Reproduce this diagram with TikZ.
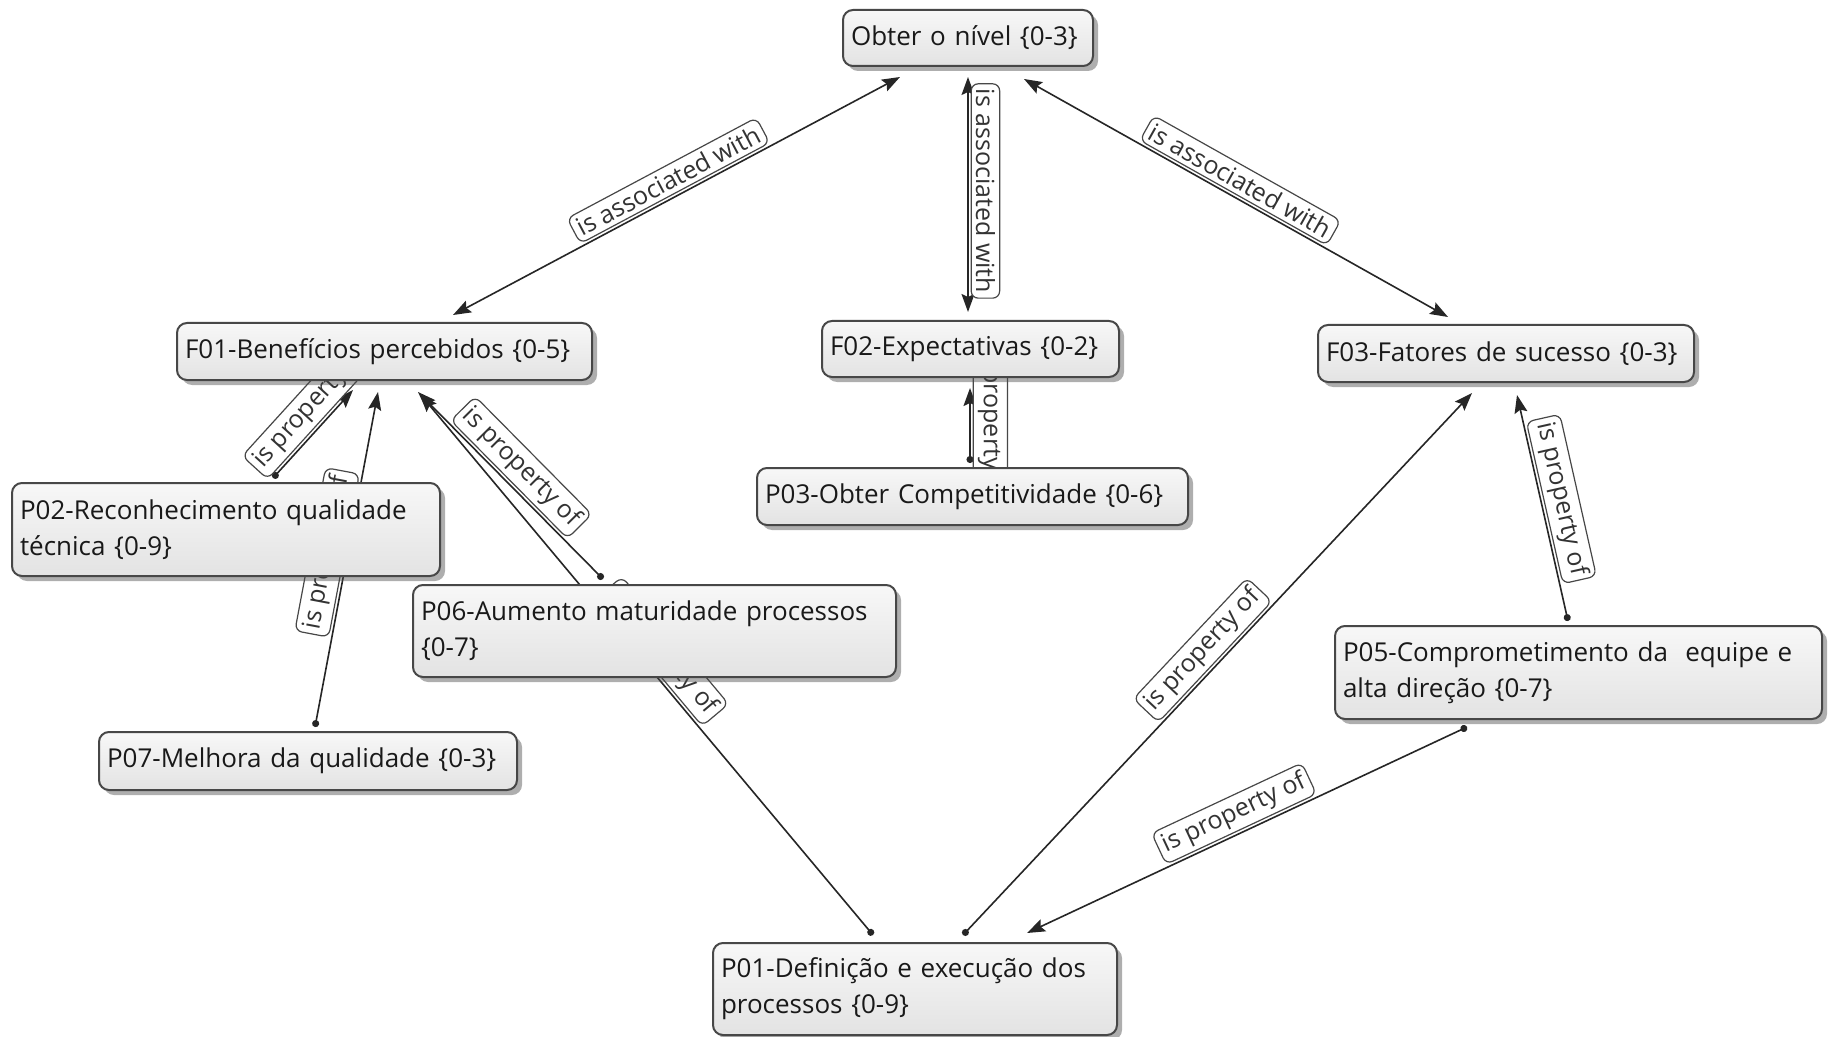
\documentclass[tikz,border=0pt]{standalone}
\usepackage{fontspec}
\setmainfont{Open Sans}
\usetikzlibrary{arrows.meta,shadows,calc}
\pgfdeclarelayer{background}
\pgfsetlayers{background,main}
\begin{document}
\begin{tikzpicture}[x=0.5pt,y=-0.5pt,
  concept/.style={rectangle, rounded corners=5pt, draw=black!72, line width=1pt,
    top color=white!97!black, bottom color=black!11,
    drop shadow={shadow xshift=2.5pt, shadow yshift=-2.5pt, opacity=0.45, fill=black!70},
    inner xsep=4pt, inner ysep=2pt, outer sep=0pt, align=left, text=black!90,
    font=\fontsize{13pt}{18pt}\selectfont},
  rel/.style={draw=black!85, line width=0.8pt},
  prop/.style={rel, {Circle[length=3.5pt]}-{Stealth[length=9pt,width=6.5pt,inset=1.5pt]}},
  propr/.style={rel, {Stealth[length=9pt,width=6.5pt,inset=1.5pt]}-{Circle[length=3.5pt]}},
  assoc/.style={rel, {Stealth[length=9pt,width=6.5pt,inset=1.5pt]}-{Stealth[length=9pt,width=6.5pt,inset=1.5pt]}},
  lab/.style={sloped, anchor=south, fill=white, draw=black!72, line width=0.6pt, rounded corners=3.5pt,
    inner xsep=2.5pt, inner ysep=2.3pt, outer sep=1.6pt, text=black!80,
    font=\fontsize{12.5pt}{14pt}\selectfont},
]
\useasboundingbox (0,0) rectangle (1829,1037);

% concepts
\node[concept, text width=117pt, minimum height=28pt] (obter) at (968,38) {Obter o nível \{0-3\}};
\node[concept, text width=199.5pt, minimum height=28.5pt] (F01) at (384.5,351.5) {F01-Benefícios percebidos \{0-5\}};
\node[concept, text width=140.5pt, minimum height=28pt] (F02) at (970.5,349) {F02-Expectativas \{0-2\}};
\node[concept, text width=180pt, minimum height=28.5pt] (F03) at (1506,353.5) {F03-Fatores de sucesso \{0-3\}};
\node[concept, text width=207.5pt, minimum height=28.5pt] (P03) at (972.5,496.5) {P03-Obter Competitividade \{0-6\}};
\node[concept, text width=206pt, minimum height=46.5pt] (P02) at (226,529.5) {P02-Reconhecimento qualidade\\técnica \{0-9\}};
\node[concept, text width=233.5pt, minimum height=46pt] (P06) at (654.5,631) {P06-Aumento maturidade processos\\\{0-7\}};
\node[concept, text width=201pt, minimum height=29pt] (P07) at (308,761) {P07-Melhora da qualidade \{0-3\}};
\node[concept, text width=235.5pt, minimum height=46.5pt] (P05) at (1578.5,672.5) {P05-Comprometimento da\ \ equipe e\\alta direção \{0-7\}};
\node[concept, text width=194pt, minimum height=46pt] (P01) at (915,989) {P01-Definição e execução dos\\processos \{0-9\}};

\begin{pgfonlayer}{background}
\fill[white] (0,0) rectangle (1829,1037);
% associations
\draw[assoc] ($(F01.north west)+(276,-8)$) -- node[lab, pos=0.5] (l1) {is associated with} ($(obter.south west)+(57,11)$);
\draw[assoc] ($(obter.south west)+(125,11)$) -- node[lab, pos=0.485] (l2) {is associated with} ($(F02.north west)+(146,-9)$);
\draw[assoc] ($(obter.south west)+(181,13)$) -- node[lab, pos=0.49] (l3) {is associated with} ($(F03.north west)+(130,-8)$);
% properties
\draw[prop] ($(P02.north west)+(261,-5)$) -- node[lab, pos=0.66] (l4) {is property of} ($(F01.south west)+(176,10)$);
\draw[prop] ($(P07.north west)+(216,-5)$) -- node[lab, pos=0.51] (l5) {is property of} ($(F01.south west)+(201,12)$);
\draw[prop] ($(P06.north west)+(190,-6)$) -- node[lab, pos=0.52] (l6) {is property of} ($(F01.south west)+(241,12)$);
\draw[prop] ($(P01.north west)+(160,-8)$) -- node[lab, pos=0.5] (l7) {is property of} ($(F01.south west)+(243,14)$);
\draw[propr] ($(F02.south west)+(148,11)$) -- node[lab, pos=0.45] (l8) {is property of} ($(P03.north west)+(213,-5)$);
\draw[prop] ($(P01.north west)+(250,-8)$) -- node[lab, pos=0.5] (l9) {is property of} ($(F03.south west)+(154,11)$);
\draw[prop] ($(P05.north west)+(233,-5)$) -- node[lab, pos=0.52] (l10) {is property of} ($(F03.south west)+(199,13)$);
\draw[prop] ($(P05.south west)+(132,8)$) -- node[lab, pos=0.51] (l11) {is property of} ($(P01.north west)+(314,-10)$);
\end{pgfonlayer}
\end{tikzpicture}
\end{document}
